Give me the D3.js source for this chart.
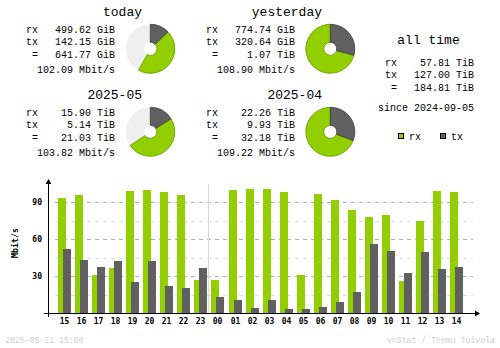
<!DOCTYPE html>
<html><head><meta charset="utf-8">
<script src="https://cdn.jsdelivr.net/npm/d3@7/dist/d3.min.js"></script>
<style>body{margin:0;background:#fff}svg{display:block}</style>
</head><body><svg id="c" width="500" height="348"></svg>
<script>
// ---- data ----
const hours = ["15","16","17","18","19","20","21","22","23","00","01","02","03","04","05","06","07","08","09","10","11","12","13","14"];
const rxMbit = [93.5,96,31,36.7,99.2,100,98.4,96,27,27,100,100.8,100.8,98.4,31,96.8,91.9,83.8,78.1,79.7,26.4,74.9,99.2,98.4];
const txMbit = [52.1,43.2,37.5,42.4,25.4,42.4,22.2,20.5,36.7,13.2,10.8,4.3,10.8,3.6,3.6,5.2,9.2,17.3,56.2,50.5,32.9,49.7,35.9,37.5];
const yTicks = [30,60,90];
const yMinor = [15,45,75];
const periodTitles = ["today","yesterday","2025-05","2025-04"];
const periodRx = ["499.62 GiB","774.74 GiB","15.90 TiB","22.26 TiB"];
const periodTx = ["142.15 GiB","320.64 GiB","5.14 TiB","9.93 TiB"];
const periodTotal = ["641.77 GiB","1.07 TiB","21.03 TiB","32.18 TiB"];
const periodRate = ["102.09 Mbit/s","108.90 Mbit/s","103.82 Mbit/s","109.22 Mbit/s"];
const periodRxAmount = [499.62, 774.74, 15.90, 22.26];
const periodTxAmount = [142.15, 320.64, 5.14, 9.93];
const periodFill = [0.58, 1, 0.655, 1];
const allTimeLabels = ["rx","tx","="];
const allTimeValues = ["57.81 TiB","127.00 TiB","184.81 TiB"];
const sinceText = "since 2024-09-05";
const legendLabels = ["rx","tx"];
const stampText = "2025-05-21 15:00";
const creditText = "vnStat / Teemu Toivola";

// ---- style ----
const RX = "#92cf00", TX = "#606060", RXD = "#6a9800", TXD = "#3a3a3a";
const MONO = "'Liberation Mono', 'DejaVu Sans Mono', monospace";
const AXF = "'DejaVu Sans Mono', monospace";
const svg = d3.select("#c");

// ---- summary blocks ----
const blockPos = [[0,0],[180,0],[0,83],[180,83]];
const arc = d3.arc().innerRadius(6.5).outerRadius(24.5);
periodTitles.forEach((t,i)=>{
  const [dx,dy] = blockPos[i];
  const g = svg.append("g").attr("transform",`translate(${dx},${dy})`);
  g.append("text").attr("x",142).attr("y",16).attr("text-anchor","end")
    .attr("font-family",MONO).attr("font-size",13).text(t);
  const rows = [["rx",periodRx[i]],["tx",periodTx[i]],["=",periodTotal[i]]];
  const by = [32.5,44.5,57.5];
  rows.forEach((r,k)=>{
    g.append("text").attr("x", r[0]==="="?32:26).attr("y",by[k])
      .attr("font-family",MONO).attr("font-size",10).text(r[0]);
    g.append("text").attr("x",115).attr("y",by[k]).attr("text-anchor","end")
      .attr("font-family",MONO).attr("font-size",10).text(r[1]);
  });
  g.append("text").attr("x",115).attr("y",72.5).attr("text-anchor","end")
    .attr("font-family",MONO).attr("font-size",10).text(periodRate[i]);
  // pie
  const pg = g.append("g").attr("transform","translate(150.3,48.8)");
  const full = periodFill[i]*2*Math.PI;
  const txA = full*periodTxAmount[i]/(periodRxAmount[i]+periodTxAmount[i]);
  pg.append("path").attr("d",arc({startAngle:0,endAngle:2*Math.PI})).attr("fill","#efefef");
  pg.append("path").attr("d",arc({startAngle:txA,endAngle:full})).attr("fill",RX).attr("stroke",RXD).attr("stroke-width",0.8);
  pg.append("path").attr("d",arc({startAngle:0,endAngle:txA})).attr("fill",TX).attr("stroke",TXD).attr("stroke-width",0.8);
});

// all time
svg.append("text").attr("x",428.5).attr("y",43.5).attr("text-anchor","middle")
  .attr("font-family",MONO).attr("font-size",13).text("all time");
[66,78,91].forEach((y,k)=>{
  svg.append("text").attr("x", k===2?391:385).attr("y",y).attr("font-family",MONO).attr("font-size",10).text(allTimeLabels[k]);
  svg.append("text").attr("x",474).attr("y",y).attr("text-anchor","end").attr("font-family",MONO).attr("font-size",10).text(allTimeValues[k]);
});
svg.append("text").attr("x",426).attr("y",111).attr("text-anchor","middle")
  .attr("font-family",MONO).attr("font-size",10).text(sinceText);
// legend
[[398.5,RX],[440.5,TX]].forEach((p,k)=>{
  svg.append("rect").attr("x",p[0]).attr("y",133.5).attr("width",5).attr("height",5)
    .attr("fill",p[1]).attr("stroke","#000").attr("stroke-width",1);
  svg.append("text").attr("x",p[0]+10.5).attr("y",140).attr("font-family",MONO).attr("font-size",10).text(legendLabels[k]);
});

// ---- bar chart ----
const x = d3.scaleBand().domain(hours).range([58, 58+24*17.05]).padding(0);
const y = d3.scaleLinear().domain([0,90]).range([313.3,202.3]);
const chart = svg.append("g").attr("shape-rendering","crispEdges");
yMinor.forEach(v=>{
  chart.append("line").attr("x1",55).attr("x2",473).attr("y1",Math.round(y(v))+0.5).attr("y2",Math.round(y(v))+0.5)
    .attr("stroke","#dedede").attr("stroke-dasharray","4,4");
});
yTicks.forEach(v=>{
  chart.append("line").attr("x1",55).attr("x2",473).attr("y1",Math.round(y(v))+0.5).attr("y2",Math.round(y(v))+0.5)
    .attr("stroke","#b0b0b0").attr("stroke-dasharray","4,4");
});
chart.append("line").attr("x1",Math.round(x("00"))-2.5).attr("x2",Math.round(x("00"))-2.5).attr("y1",184).attr("y2",313)
  .attr("stroke","#d8d8d8");
chart.selectAll(".rx").data(hours).enter().append("rect")
  .attr("x",(h)=>Math.round(x(h))).attr("width",8)
  .attr("y",(h,i)=>Math.round(y(rxMbit[i]))).attr("height",(h,i)=>313-Math.round(y(rxMbit[i])))
  .attr("fill",RX);
chart.selectAll(".tx").data(hours).enter().append("rect")
  .attr("x",(h)=>Math.round(x(h))+5).attr("width",8)
  .attr("y",(h,i)=>Math.round(y(txMbit[i]))).attr("height",(h,i)=>313-Math.round(y(txMbit[i])))
  .attr("fill",TX);
chart.append("line").attr("x1",48.5).attr("x2",48.5).attr("y1",182).attr("y2",317).attr("stroke","#000");
chart.append("line").attr("x1",44).attr("x2",477).attr("y1",313.5).attr("y2",313.5).attr("stroke","#000");
svg.append("path").attr("d","M48.5,179 L45.5,184 L51.5,184 Z").attr("fill","#000");
svg.append("path").attr("d","M480,313.5 L475,310.5 L475,316.5 Z").attr("fill","#000");
yTicks.forEach(v=>{
  svg.append("text").attr("x",42).attr("y",y(v)+3).attr("text-anchor","end")
    .attr("font-family",AXF).attr("font-size",8).attr("font-weight","bold").text(v);
});
hours.forEach(h=>{
  svg.append("text").attr("x",Math.round(x(h))+6.5).attr("y",324.3).attr("text-anchor","middle")
    .attr("font-family",AXF).attr("font-size",8).attr("font-weight","bold").text(h);
});
svg.append("text").attr("transform","translate(17.5,243) rotate(-90)").attr("text-anchor","middle")
  .attr("font-family",AXF).attr("font-size",8.3).attr("font-weight","bold").text("Mbit/s");
svg.append("text").attr("x",5).attr("y",343).attr("font-family",MONO).attr("font-size",8.2).attr("fill","#d0d0d0").text(stampText);
svg.append("text").attr("x",495).attr("y",343).attr("text-anchor","end").attr("font-family",MONO).attr("font-size",8.2).attr("fill","#d0d0d0").text(creditText);
</script></body></html>
